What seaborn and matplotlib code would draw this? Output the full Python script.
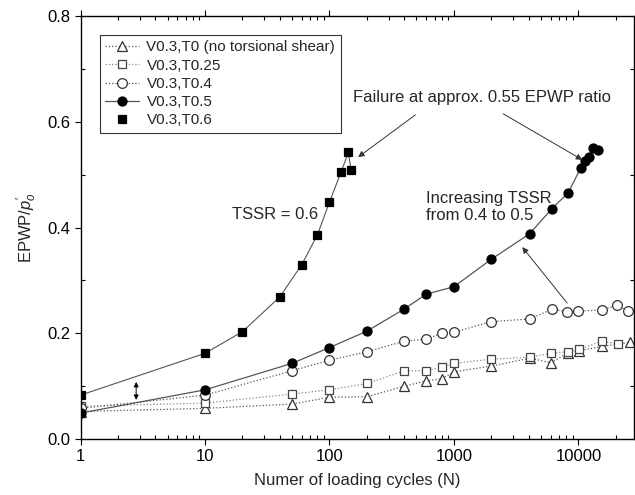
import matplotlib
matplotlib.use("Agg")
import matplotlib.pyplot as plt
from matplotlib.lines import Line2D
from matplotlib.ticker import FixedLocator, FixedFormatter, MultipleLocator, LogLocator, NullFormatter
import seaborn as sns
import pandas as pd

# values (N = loading cycles, ratio = EPWP/p'o)
n_t0 = [1, 10, 50, 100, 200, 400, 600, 800, 1000, 2000, 4100, 6000, 8200, 10200, 15500, 26000]
v_t0 = [0.052, 0.058, 0.066, 0.079, 0.080, 0.100, 0.110, 0.114, 0.127, 0.138, 0.153, 0.144, 0.163, 0.167, 0.175, 0.183]

n_t025 = [1, 10, 50, 100, 200, 400, 600, 800, 1000, 2000, 4100, 6000, 8200, 10200, 15500, 20800]
v_t025 = [0.062, 0.068, 0.085, 0.093, 0.105, 0.129, 0.129, 0.136, 0.143, 0.151, 0.155, 0.162, 0.165, 0.170, 0.185, 0.180]

n_t04 = [1, 10, 50, 100, 200, 400, 600, 800, 1000, 2000, 4050, 6100, 8100, 10000, 15500, 20400, 25000]
v_t04 = [0.058, 0.083, 0.129, 0.149, 0.165, 0.185, 0.189, 0.200, 0.202, 0.222, 0.227, 0.245, 0.241, 0.242, 0.244, 0.253, 0.242]

n_t05 = [1, 10, 50, 100, 200, 400, 600, 1000, 2000, 4050, 6100, 8300, 10400, 11400, 12100, 13200, 14500]
v_t05 = [0.049, 0.093, 0.143, 0.173, 0.204, 0.246, 0.274, 0.288, 0.340, 0.388, 0.435, 0.466, 0.512, 0.525, 0.533, 0.550, 0.547]

n_t06 = [1, 10, 20, 40, 60, 80, 100, 124, 142, 149]
v_t06 = [0.083, 0.162, 0.203, 0.269, 0.330, 0.386, 0.448, 0.505, 0.542, 0.509]

labels = ["V0.3,T0 (no torsional shear)", "V0.3,T0.25", "V0.3,T0.4", "V0.3,T0.5", "V0.3,T0.6"]
x_ticks = [1, 10, 100, 1000, 10000]
x_tick_labels = ["1", "10", "100", "1000", "10000"]

sns.set_style("ticks")
plt.rcParams["font.family"] = ["Liberation Sans", "DejaVu Sans"]
plt.rcParams["mathtext.fontset"] = "custom"
plt.rcParams["mathtext.rm"] = "Liberation Sans"
plt.rcParams["mathtext.it"] = "Liberation Sans:italic"

fig = plt.figure(figsize=(6.35, 4.95), dpi=100)
ax = fig.add_axes([0.1268, 0.1131, 0.8717, 0.8546])

line_col = "#555555"
styles = [
    dict(marker="^", mfc="white", mec="#333333", ms=7, ls=":", color=line_col, lw=0.9),
    dict(marker="s", mfc="white", mec="#444444", ms=6, ls=":", color="#888888", lw=0.9),
    dict(marker="o", mfc="white", mec="#333333", ms=7, ls=":", color=line_col, lw=0.9),
    dict(marker="o", mfc="black", mec="black", ms=6.5, ls="-", color=line_col, lw=0.9),
    dict(marker="s", mfc="black", mec="black", ms=5.5, ls="-", color=line_col, lw=0.8),
]
series = [(n_t0, v_t0), (n_t025, v_t025), (n_t04, v_t04), (n_t05, v_t05), (n_t06, v_t06)]

for (n, v), st in zip(series, styles):
    df = pd.DataFrame({"N": n, "ratio": v})
    sns.lineplot(data=df, x="N", y="ratio", ax=ax, sort=False, estimator=None,
                 marker=st["marker"], markersize=st["ms"], markerfacecolor=st["mfc"],
                 markeredgecolor=st["mec"], markeredgewidth=0.9, linestyle=st["ls"],
                 color=st["color"], linewidth=st["lw"])

ax.set_xscale("log")
ax.set_xlim(1, 28000)
ax.set_ylim(0, 0.8)
ax.xaxis.set_major_locator(FixedLocator(x_ticks))
ax.xaxis.set_major_formatter(FixedFormatter(x_tick_labels))
ax.xaxis.set_minor_locator(LogLocator(base=10, subs=range(2, 10)))
ax.xaxis.set_minor_formatter(NullFormatter())
ax.yaxis.set_major_locator(MultipleLocator(0.2))
ax.yaxis.set_minor_locator(MultipleLocator(0.1))
ax.yaxis.set_major_formatter(lambda y, p: f"{y:.1f}")
ax.tick_params(which="both", top=True, right=True, labelsize=12, colors="black", width=0.8)
ax.tick_params(which="major", direction="out", length=4)
ax.tick_params(which="minor", direction="in", length=3)
for sp in ax.spines.values():
    sp.set_linewidth(1.0)
    sp.set_color("black")

ax.set_xlabel("Numer of loading cycles (N)", fontsize=12, labelpad=6)
ax.set_ylabel(r"EPWP/$p^{\prime}_{o}$", fontsize=12, labelpad=6)

handles = []
for i, st in enumerate(styles):
    ls = "none" if i == 4 else st["ls"]
    handles.append(Line2D([], [], marker=st["marker"], markersize=st["ms"], markerfacecolor=st["mfc"],
                          markeredgecolor=st["mec"], markeredgewidth=0.9, linestyle=ls,
                          color=st["color"], linewidth=st["lw"]))
leg = ax.legend(handles, labels, loc="upper left", bbox_to_anchor=(0.035, 0.955), fontsize=11,
                frameon=True, fancybox=False, edgecolor="#333333", framealpha=1,
                handlelength=2.2, handletextpad=0.5, labelspacing=0.28, borderpad=0.35,
                borderaxespad=0)
leg.get_frame().set_linewidth(0.8)

arrow = dict(arrowstyle="-|>", color="#333333", lw=0.7, mutation_scale=9, shrinkA=0, shrinkB=0)
ax.text(155, 0.645, "Failure at approx. 0.55 EPWP ratio", fontsize=12, ha="left", va="center")
ax.annotate("", xy=(170, 0.533), xytext=(490, 0.613), arrowprops=arrow)
ax.annotate("", xy=(10740, 0.528), xytext=(2490, 0.615), arrowprops=arrow)
ax.text(36.6, 0.424, "TSSR = 0.6", fontsize=12, ha="center", va="center")
ax.text(598, 0.439, "Increasing TSSR\nfrom 0.4 to 0.5", fontsize=12, ha="left", va="center",
        linespacing=1.15)
ax.annotate("", xy=(3540, 0.363), xytext=(8130, 0.257), arrowprops=arrow)
ax.annotate("", xy=(2.8, 0.108), xytext=(2.8, 0.074),
            arrowprops=dict(arrowstyle="<|-|>", color="black", lw=0.7, mutation_scale=7,
                            shrinkA=0, shrinkB=0))

fig.savefig("out.png", dpi=100)
